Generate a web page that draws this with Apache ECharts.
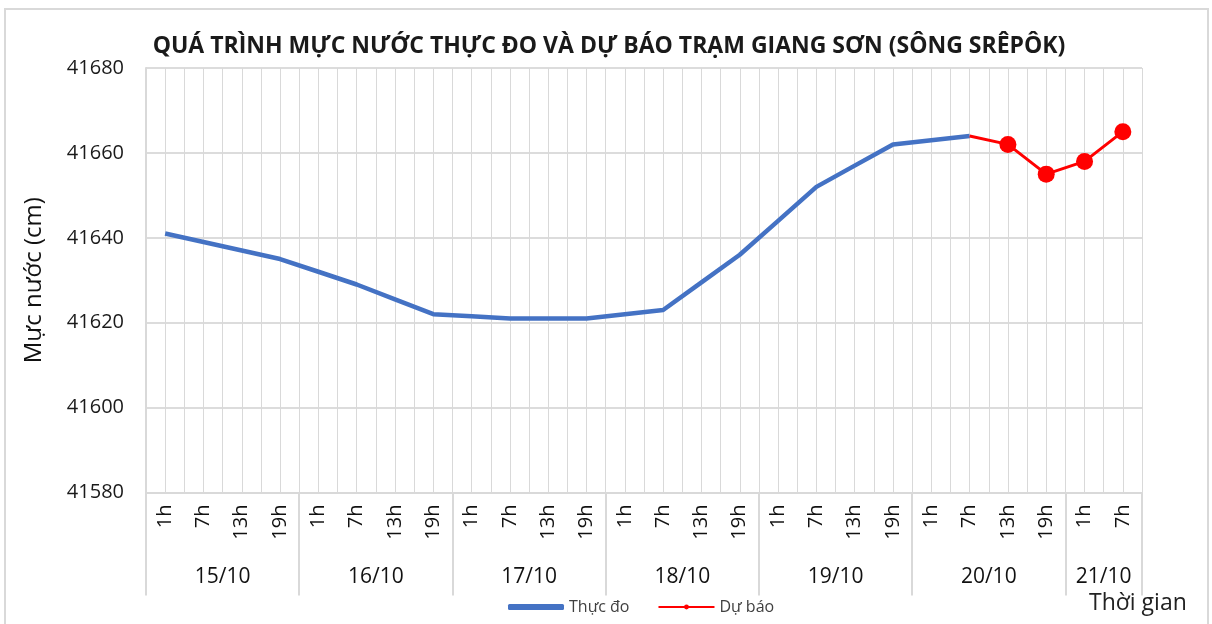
<!DOCTYPE html>
<html>
<head>
<meta charset="utf-8">
<script src="https://cdn.jsdelivr.net/npm/echarts@6/dist/echarts.min.js"></script>
<style>
  html, body { margin: 0; padding: 0; background: #fff; }
  #chart { width: 1212px; height: 624px; }
</style>
</head>
<body>
<div id="chart"></div>
<script>
// du lieu doc tu hinh
var hours = ['1h','7h','13h','19h','1h','7h','13h','19h','1h','7h','13h','19h','1h','7h','13h','19h',
             '1h','7h','13h','19h','1h','7h','13h','19h','1h','7h'];
var dates = ['15/10','16/10','17/10','18/10','19/10','20/10','21/10'];
var dateCenters = [2, 6, 10, 14, 18, 22, 25];
var dateBounds = [0, 4, 8, 12, 16, 20, 24, 26];
var thucDo = [41641, 41639, 41637, 41635, 41632, 41629, 41625.5, 41622, 41621.5, 41621, 41621, 41621, 41622,
              41623, 41629.5, 41636, 41644, 41652, 41657, 41662, 41663, 41664, null, null, null, null];
var duBao = [null, null, null, null, null, null, null, null, null, null, null, null, null,
             null, null, null, null, null, null, null, null, 41664, 41662, 41655, 41658, 41665];

var font = '"Open Sans", "Noto Sans", sans-serif';
var grey = '#d9d9d9';

var myChart = echarts.init(document.getElementById('chart'));

var options = {
  backgroundColor: '#fff',
  animation: false,
  textStyle: { fontFamily: font },
  title: {
    text: 'QUÁ TRÌNH MỰC NƯỚC THỰC ĐO VÀ DỰ BÁO TRẠM GIANG SƠN (SÔNG SRÊPÔK)',
    left: 604, top: 30, textAlign: 'center',
    textStyle: { fontFamily: font, fontSize: 23, fontWeight: 'bold', color: '#1a1a1a' }
  },
  legend: {
    bottom: 4, left: 503, itemGap: 28, itemWidth: 56, itemHeight: 6,
    textStyle: { fontFamily: font, fontSize: 16, color: '#404040' },
    data: [{ name: 'Thực đo', icon: 'roundRect' }, { name: 'Dự báo' }]
  },
  graphic: [
    { type: 'rect', shape: { x: 5, y: 9, width: 1203, height: 640 },
      style: { fill: 'none', stroke: grey, lineWidth: 2 }, silent: true },
    { type: 'text', left: 1089, top: 592,
      style: { text: 'Thời gian', font: '23px ' + font, fill: '#222' } }
  ],
  grid: { left: 146, right: 70, top: 68, bottom: 131.5, containLabel: false },
  xAxis: [
    {
      type: 'category', data: hours, position: 'bottom', boundaryGap: true,
      axisLine: { show: true, lineStyle: { color: grey, width: 2 } },
      axisTick: { show: false },
      splitLine: { show: false },
      axisLabel: { interval: 0, rotate: 90, margin: 12, fontSize: 20, color: '#111', fontFamily: font }
    },
    {
      // nhom ngay
      type: 'value', min: 0, max: 26, position: 'bottom',
      axisLine: { show: false },
      axisTick: { show: true, customValues: dateBounds, length: 103, inside: false,
                  lineStyle: { color: grey, width: 2 } },
      splitLine: { show: false },
      axisLabel: {
        customValues: dateCenters, margin: 74, fontSize: 21, color: '#111', fontFamily: font,
        formatter: function (v) { return dates[dateCenters.indexOf(v)] || ''; }
      }
    },
    {
      // luoi doc
      type: 'value', min: 0, max: 26, interval: 0.5, position: 'bottom',
      axisLine: { show: false }, axisTick: { show: false }, axisLabel: { show: false },
      splitLine: { show: true, lineStyle: { color: grey, width: 1 } }
    }
  ],
  yAxis: {
    type: 'value', min: 41580, max: 41680, interval: 20,
    name: 'Mực nước (cm)', nameLocation: 'middle', nameGap: 100, nameRotate: 90,
    nameTextStyle: { fontFamily: font, fontSize: 24, color: '#111' },
    axisLine: { show: true, lineStyle: { color: grey, width: 2 } },
    axisTick: { show: false },
    splitLine: { lineStyle: { color: '#d0d0d0', width: 1.5 } },
    axisLabel: { margin: 22, fontSize: 20, color: '#1a1a1a', fontFamily: font,
                 formatter: function (v) { return String(v); } }
  },
  series: [
    {
      name: 'Thực đo', type: 'line', xAxisIndex: 0, data: thucDo,
      symbol: 'none', lineStyle: { color: '#4472c4', width: 4.5 },
      itemStyle: { color: '#4472c4' }, z: 3
    },
    {
      name: 'Dự báo', type: 'line', xAxisIndex: 0,
      data: duBao.map(function (v, i) { return i === 21 ? { value: v, symbol: 'none' } : v; }),
      symbol: 'circle', symbolSize: 17, lineStyle: { color: '#ff0000', width: 3 },
      itemStyle: { color: '#ff0000' }, z: 4
    }
  ]
};

myChart.setOption(options);
</script>
</body>
</html>
